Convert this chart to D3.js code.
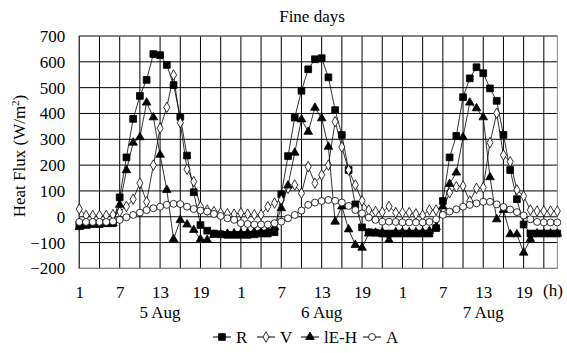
<!DOCTYPE html>
<html><head><meta charset="utf-8">
<script src="https://cdn.jsdelivr.net/npm/d3@7"></script>
<style>body{margin:0;background:#fff}</style>
</head><body><svg id="c" width="567" height="353" style="font-family:'Liberation Serif','Times New Roman',serif"></svg>
<script>
const hourOfDay = d3.range(72).map(i => (i % 24) + 1);
const dayLabels = ["5 Aug", "6 Aug", "7 Aug"];
const yTicks = [-200, -100, 0, 100, 200, 300, 400, 500, 600, 700];
const seriesNames = ["R", "V", "lE-H", "A"];
const valuesR = [
 -30,-30,-28,-28,-25,-25, 75,230,379,468,530,630, 626,588,510,387,237,95, -32,-54,-65,-68,-70,-70,
 -70,-70,-68,-65,-65,-60, 87,235,384,488,571,610, 614,540,413,317,181,48, -41,-60,-62,-65,-65,-65,
 -65,-65,-65,-65,-65,-44, 61,230,313,463,536,579, 556,497,449,317,181,68, -30,-65,-65,-65,-65,-65];
const valuesV = [
 30,5,5,5,5,8, 20,40,68,130,58,200, 343,424,549,364,184,136, 39,26,20,15,12,10,
 15,10,8,8,39,53, 65,110,123,91,194,130, 162,200,368,270,181,123, 62,26,20,18,40,16,
 16,16,11,6,26,26, 29,93,116,119,61,110, 113,287,401,239,213,104, 80,26,22,22,22,22];
const valuesE = [
 -40,-35,-30,-30,-28,-25, 46,180,287,308,442,385, 240,104,-87,-13,-30,-51, -87,-90,-70,-68,-66,-65,
 -65,-62,-60,-60,-55,-40, 33,121,248,377,329,422, 381,271,-19,40,-49,-109, -120,-65,-62,-60,-90,-60,
 -60,-60,-60,-60,-55,-40, 40,127,171,308,442,420, 385,153,-10,26,-68,-68, -139,-87,-65,-65,-65,-65];
const valuesA = [
 -20,-20,-20,-20,-20,-18, -12,-2,7,16,26,33, 39,46,50,49,39,30, 24,20,11,3,-6,-12,
 -25,-28,-30,-30,-30,-25, -19,-6,7,24,46,55, 61,65,62,55,42,26, 13,-3,-12,-19,-19,-20,
 -22,-22,-22,-22,-20,-10, 7,20,29,39,46,52, 58,58,48,38,28,18, 5,-10,-20,-22,-22,-22];

const series = [
  {name: seriesNames[0], values: valuesR, sym: d3.symbolSquare, fill: "#000", size: 46},
  {name: seriesNames[1], values: valuesV, sym: d3.symbolDiamond, fill: "#fff", size: 32},
  {name: seriesNames[2], values: valuesE, sym: d3.symbolTriangle, fill: "#000", size: 32},
  {name: seriesNames[3], values: valuesA, sym: d3.symbolCircle, fill: "#fff", size: 38}
];

const FONT = "'Liberation Serif','Times New Roman',serif";
const svg = d3.select("#c");
const L = 79.3, R = 557.3, T = 36, B = 268.4;
const x = d3.scaleLinear().domain([0, 71]).range([L, R]);
const y = d3.scaleLinear().domain([-200, 700]).range([B, T]);
const FS = 17;

svg.append("text").attr("x", 312).attr("y", 22).attr("text-anchor", "middle")
  .attr("font-family", FONT).attr("font-size", FS).text("Fine days");

const g = svg.append("g");
g.selectAll("line.v").data(d3.range(0, 71, 3)).join("line")
  .attr("x1", d => x(d)).attr("x2", d => x(d)).attr("y1", T).attr("y2", B)
  .attr("stroke", "#000").attr("stroke-width", 1);
g.selectAll("line.h").data(yTicks).join("line")
  .attr("x1", L).attr("x2", R).attr("y1", d => y(d)).attr("y2", d => y(d))
  .attr("stroke", "#000").attr("stroke-width", 1);
g.append("rect").attr("x", L).attr("y", T).attr("width", R - L).attr("height", B - T)
  .attr("fill", "none").attr("stroke", "#888").attr("stroke-width", 1);
g.append("line").attr("x1", L).attr("x2", L).attr("y1", T).attr("y2", B).attr("stroke", "#333");
g.append("line").attr("x1", L).attr("x2", R).attr("y1", B).attr("y2", B).attr("stroke", "#888");

const yAxis = d3.axisLeft(y).tickValues(yTicks).tickSize(0).tickPadding(14);
const ya = svg.append("g").attr("transform", `translate(${L},0)`).call(yAxis);
ya.select(".domain").remove();
ya.attr("font-family", FONT).attr("font-size", FS);

const xTickIdx = d3.range(0, 72, 6);
const xAxis = d3.axisBottom(x).tickValues(xTickIdx).tickFormat(i => hourOfDay[i]).tickSize(0).tickPadding(18);
const xa = svg.append("g").attr("transform", `translate(0,${B})`).call(xAxis);
xa.select(".domain").remove();
xa.attr("font-family", FONT).attr("font-size", FS);
svg.append("text").attr("x", 553).attr("y", 296).attr("text-anchor", "middle")
  .attr("font-family", FONT).attr("font-size", FS).text("(h)");
svg.selectAll("text.day").data(dayLabels).join("text").attr("class", "day")
  .attr("x", (d, i) => x(i * 24 + 12)).attr("y", 318).attr("text-anchor", "middle")
  .attr("font-family", FONT).attr("font-size", FS).text(d => d);

svg.append("text").attr("transform", "translate(25,156) rotate(-90)").attr("text-anchor", "middle")
  .attr("font-family", FONT).attr("font-size", FS)
  .html('Heat Flux (W/m<tspan dy="-6" font-size="11">2</tspan><tspan dy="6">)</tspan>');

const line = d3.line().x((d, i) => x(i)).y(d => y(d));
series.forEach(s => {
  svg.append("path").datum(s.values).attr("d", line).attr("fill", "none")
    .attr("stroke", "#000").attr("stroke-width", 0.8);
  svg.append("g").selectAll("path").data(s.values).join("path")
    .attr("transform", (d, i) => `translate(${x(i)},${y(d)})`)
    .attr("d", d3.symbol().type(s.sym).size(s.size))
    .attr("fill", s.fill).attr("stroke", "#000").attr("stroke-width", 0.8);
});

const legX = [213, 257, 301, 363];
const leg = svg.append("g");
series.forEach((s, i) => {
  const lx = legX[i], ly = 337;
  leg.append("line").attr("x1", lx).attr("x2", lx + 18).attr("y1", ly).attr("y2", ly).attr("stroke", "#000");
  leg.append("path").attr("transform", `translate(${lx + 9},${ly})`)
    .attr("d", d3.symbol().type(s.sym).size(s.size)).attr("fill", s.fill).attr("stroke", "#000").attr("stroke-width", 0.8);
  leg.append("text").attr("x", lx + 23).attr("y", ly + 6)
    .attr("font-family", FONT).attr("font-size", FS).text(s.name);
});
</script></body></html>
